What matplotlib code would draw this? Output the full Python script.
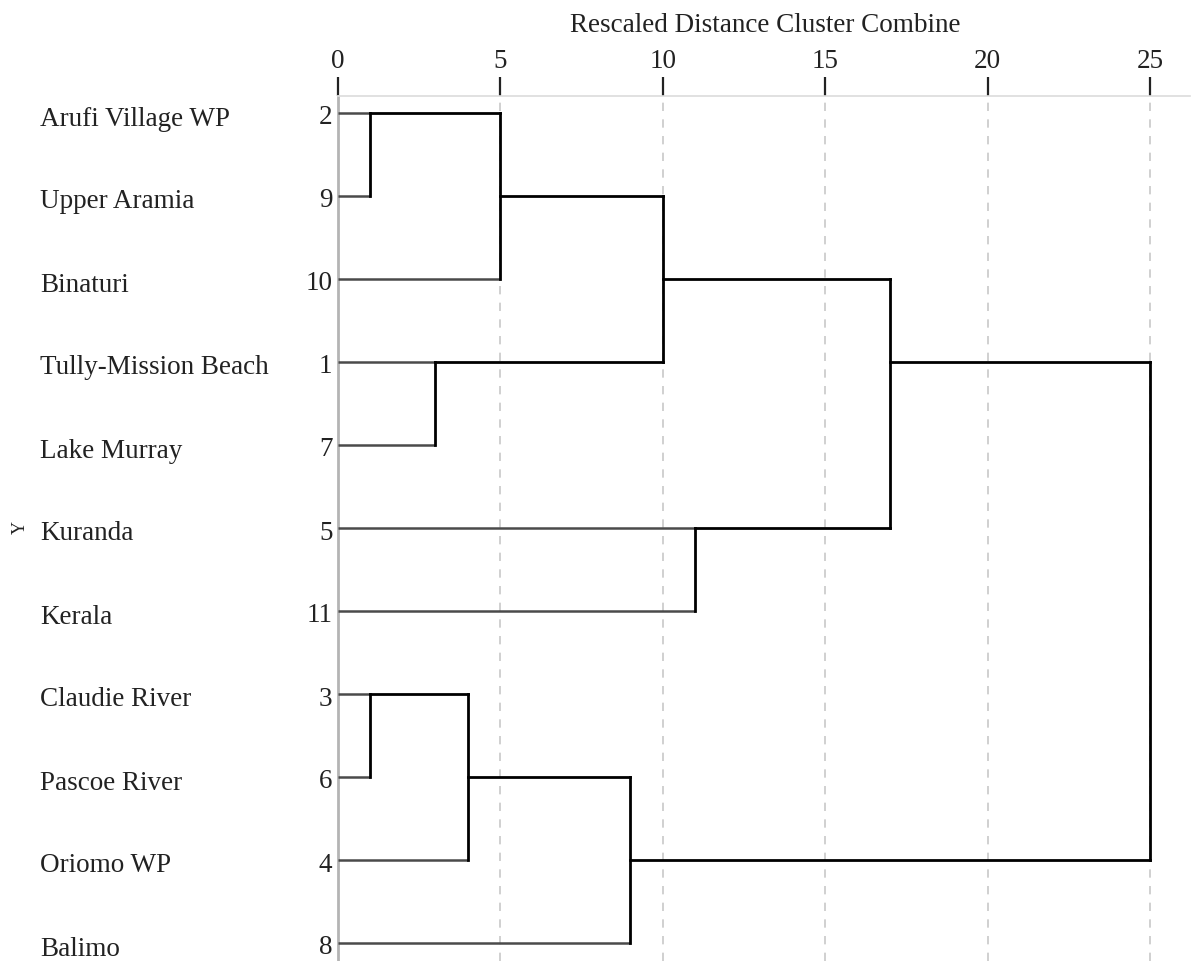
import matplotlib.pyplot as plt
import numpy as np

plt.rcParams['font.family'] = ['Liberation Serif', 'DejaVu Serif']

# leaves in display order, top to bottom
labels = ['Arufi Village WP', 'Upper Aramia', 'Binaturi', 'Tully-Mission Beach',
          'Lake Murray', 'Kuranda', 'Kerala', 'Claudie River', 'Pascoe River',
          'Oriomo WP', 'Balimo']
case_ids = [2, 9, 10, 1, 7, 5, 11, 3, 6, 4, 8]

# agglomeration steps: (cluster a, cluster b, rescaled distance)
# leaves are 0..10, each merge creates cluster 11, 12, ...
merge_a = [0, 11, 3, 12, 5, 14, 7, 17, 18, 16]
merge_b = [1, 2, 4, 13, 6, 15, 8, 9, 10, 19]
merge_dist = [1, 5, 3, 10, 11, 17, 1, 4, 9, 25]

ticks = [0, 5, 10, 15, 20, 25]

FS = 19.5
TXT = '#222222'

fig = plt.figure(figsize=(11.94, 9.61), dpi=100)
ax = fig.add_axes([338 / 1194, 0, (1190 - 338) / 1194, 1 - 96 / 961])

n = len(labels)
ypos = {i: float(i) for i in range(n)}
xpos = {i: 0.0 for i in range(n)}

leaf_kw = dict(color='#4a4a4a', lw=1.8, solid_capstyle='butt', zorder=3)
link_kw = dict(color='black', lw=2.0, solid_capstyle='projecting', zorder=4)

for k, (a, b, d) in enumerate(zip(merge_a, merge_b, merge_dist)):
    new = n + k
    for c in (a, b):
        kw = leaf_kw if c < n else link_kw
        ax.plot([xpos[c], d], [ypos[c], ypos[c]], **kw)
    ax.plot([d, d], [ypos[a], ypos[b]], **link_kw)
    ypos[new] = float(np.floor((ypos[a] + ypos[b]) / 2))
    xpos[new] = d

# axis limits: row spacing 83 px, first row 17 px below top spine
ax.set_xlim(0, (1190 - 338) / ((1150 - 338) / 25))
ax.set_ylim(10 + 18 / 83, -17 / 83)

for t in ticks[1:]:
    ax.axvline(t, color='#c8c8c8', lw=1.2, ls=(0, (5, 5)), zorder=1)

for s in ['right', 'bottom']:
    ax.spines[s].set_visible(False)
ax.spines['top'].set_color('#dcdcdc')
ax.spines['top'].set_linewidth(1.2)
ax.spines['left'].set_color('#b4b4b4')
ax.spines['left'].set_linewidth(2.0)

ax.xaxis.tick_top()
ax.set_xticks(ticks)
ax.set_xticklabels([str(t) for t in ticks], fontsize=FS, color=TXT)
ax.tick_params(axis='x', direction='out', length=14, width=1.6, color=TXT, pad=2)
ax.set_yticks([])

fig.text(765 / 1194, 1 - 22 / 961, 'Rescaled Distance Cluster Combine',
         ha='center', va='center_baseline', fontsize=FS, color=TXT)

for i in range(n):
    y_fig = 1 - (113 + 83 * i + 3) / 961
    ax.text(-0.17, i + 2 / 83, str(case_ids[i]), ha='right', va='center_baseline',
            fontsize=FS, color=TXT)
    fig.text(40 / 1194, y_fig, labels[i], ha='left', va='center_baseline',
             fontsize=FS, color=TXT)

fig.text(20 / 1194, 1 - 528 / 961, 'Y', rotation=90, ha='center', va='center',
         fontsize=13, color=TXT)

fig.savefig('out.png', dpi=100)
